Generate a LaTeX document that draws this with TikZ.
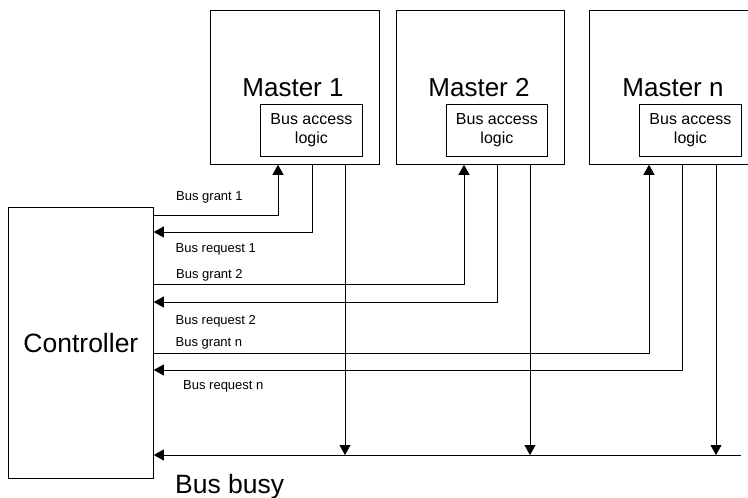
\documentclass[tikz,border=0pt]{standalone}
\usepackage{fontspec}
\setmainfont{Liberation Sans}
\usetikzlibrary{arrows.meta}
\begin{document}
\begin{tikzpicture}[x=1pt,y=-1pt,
  box/.style={draw, line width=0.8pt, inner sep=0pt},
  wire/.style={line width=0.8pt},
  arr/.style={wire, -{Triangle[length=10pt,width=11pt]}},
  big/.style={font=\fontsize{26}{30}\selectfont, inner sep=0pt},
  mid/.style={font=\fontsize{16}{18.5}\selectfont, align=center},
  small/.style={font=\fontsize{13}{15}\selectfont, anchor=base west, inner sep=0pt}]
\useasboundingbox (0,0) rectangle (748,498);
\clip (0,0) rectangle (748,498);

% controller
\node[box, minimum width=145, minimum height=271, anchor=north west,
      font=\fontsize{26.5}{30}\selectfont] (ctrl) at (8,207) {Controller};

% masters with their bus access logic
\node[box, minimum width=169, minimum height=154, anchor=north west] (m1) at (210,10) {};
\node[box, minimum width=168, minimum height=154, anchor=north west] (m2) at (396,10) {};
\node[box, minimum width=169, minimum height=154, anchor=north west] (mn) at (589,10) {};
\node[big] (t1) at (293,88) {Master 1};
\node[big] (t2) at (479,88) {Master 2};
\node[big] (tn) at (673,88) {Master n};
\node[box, mid, minimum width=102, minimum height=52, anchor=north west] (l1) at (260,104) {Bus access\\logic};
\node[box, mid, minimum width=101, minimum height=52, anchor=north west] (l2) at (446,104) {Bus access\\logic};
\node[box, mid, minimum width=102, minimum height=52, anchor=north west] (ln) at (639,104) {Bus access\\logic};

% signal corners
\coordinate (g1) at (278,215);
\coordinate (r1) at (312,232);
\coordinate (b1) at (345,455);
\coordinate (g2) at (464,284);
\coordinate (r2) at (497,302);
\coordinate (b2) at (530,455);
\coordinate (gn) at (649,353);
\coordinate (rn) at (682,370);
\coordinate (bn) at (716,455);
\coordinate (busend) at (741,455);

% grants
\draw[arr] (ctrl.east |- g1) -- (g1) -- (g1 |- m1.south);
\draw[arr] (ctrl.east |- g2) -- (g2) -- (g2 |- m2.south);
\draw[arr] (ctrl.east |- gn) -- (gn) -- (gn |- mn.south);
% requests
\draw[arr] (r1 |- m1.south) -- (r1) -- (ctrl.east |- r1);
\draw[arr] (r2 |- m2.south) -- (r2) -- (ctrl.east |- r2);
\draw[arr] (rn |- mn.south) -- (rn) -- (ctrl.east |- rn);
% bus busy
\draw[arr] (busend) -- (ctrl.east |- busend);
\draw[arr] (b1 |- m1.south) -- (b1);
\draw[arr] (b2 |- m2.south) -- (b2);
\draw[arr] (bn |- mn.south) -- (bn);

% labels
\node[small] (lg1) at (176,200.5) {Bus grant 1};
\node[small] (lr1) at (175.5,252) {Bus request 1};
\node[small] (lg2) at (176,278) {Bus grant 2};
\node[small] (lr2) at (175.5,324) {Bus request 2};
\node[small] (lgn) at (175.5,346.5) {Bus grant n};
\node[small] (lrn) at (183,389) {Bus request n};
\node[big, anchor=base west, font=\fontsize{26.5}{30}\selectfont] (busy) at (175,493) {Bus busy};
\end{tikzpicture}
\end{document}
